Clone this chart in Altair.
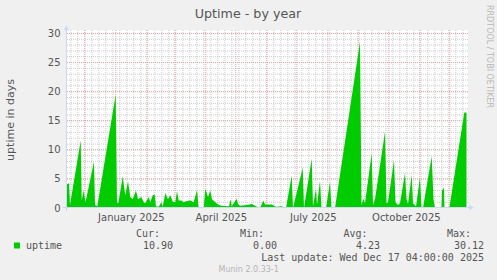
import altair as alt
import pandas as pd

# ---- layout (page pixels) ----
L, T = 66, 30          # plot origin on the page
W, H = 402, 178        # plot (canvas) size

START = pd.Timestamp("2024-11-12 04:00:00")

# ---- data: uptime vertices (days since graph start, uptime in days) ----
day_offset = [0.5, 3.0, 4.0, 14.7, 15.7, 17.5, 19.5, 28.0, 29.0, 31.3,
              49.7, 51.0, 52.5, 56.7, 59.3, 62.0, 64.3, 66.7, 70.0, 72.0,
              75.3, 77.7, 79.3, 82.7, 84.3, 86.7, 88.7, 90.0, 92.7, 95.3,
              96.7, 99.3, 102.0, 104.3, 106.7, 109.3, 111.0, 112.7, 115.3, 117.7,
              121.0, 124.3, 127.7, 131.0, 132.7, 137.7, 139.3, 142.0, 144.3, 146.0,
              149.3, 152.7, 156.0, 163.0, 164.7, 165.7, 170.7, 172.0, 174.0, 180.7,
              185.7, 190.0, 194.0, 197.3, 199.0, 205.7, 210.0, 215.7, 220.0, 225.7,
              227.0, 236.7, 238.0, 245.7, 247.0, 250.0, 251.0, 254.0, 255.5, 260.0,
              264.0, 265.5, 269.0, 294.0, 295.5, 297.3, 299.0, 305.7, 307.0, 309.0,
              319.0, 320.5, 322.0, 328.0, 329.5, 332.0, 334.0, 339.0, 340.5, 342.0,
              345.7, 347.0, 350.0, 354.0, 355.5, 357.0, 365.7, 367.5, 369.0, 375.5,
              376.0, 378.0, 378.5, 383.3, 398.3, 400.5]
uptime_days = [4.0, 4.3, 0.5, 11.6, 1.3, 3.0, 1.0, 8.0, 0.5, 0.3,
               19.5, 0.8, 1.0, 5.4, 2.2, 4.6, 1.9, 1.5, 3.0, 1.5,
               1.9, 1.0, 0.8, 1.9, 1.0, 2.2, 2.3, 0.3, 0.2, 1.0,
               0.2, 2.6, 1.5, 2.2, 1.1, 1.0, 2.9, 1.3, 1.3, 1.0,
               1.2, 1.3, 1.0, 3.1, 0.0, 0.0, 3.3, 1.9, 3.0, 1.5,
               1.0, 0.5, 0.4, 0.3, 1.5, 0.3, 1.6, 0.7, 0.4, 0.5,
               0.7, 0.3, 0.0, 1.3, 0.6, 0.6, 0.2, 0.3, 0.0, 5.6,
               0.0, 6.9, 0.0, 8.5, 0.3, 3.3, 0.5, 4.7, 0.0, 0.0,
               4.5, 0.0, 0.0, 28.6, 0.5, 1.6, 0.8, 9.4, 0.5, 1.5,
               13.1, 0.8, 1.0, 8.2, 1.0, 0.5, 0.8, 6.0, 1.5, 0.7,
               5.7, 0.8, 0.3, 5.3, 0.0, 0.0, 8.9, 1.5, 0.0, 0.0,
               3.0, 3.5, 0.0, 0.0, 16.4, 16.4]

y_major = [5, 10, 15, 20, 25, 30]
y_minor = [v for v in range(1, 31)]
y_ticks = [0, 5, 10, 15, 20, 25, 30]

legend_head = ["Cur:", "Min:", "Avg:", "Max:"]
legend_vals = ["10.90", "0.00", "4.23", "30.12"]

df = pd.DataFrame({"time": START + pd.to_timedelta(day_offset, unit="D"),
                   "uptime": uptime_days})
months = pd.DataFrame({"time": pd.date_range("2024-12-01", "2025-12-01", freq="MS")})
weeks = pd.DataFrame({"time": pd.date_range("2024-11-17", "2025-12-14", freq="W-SUN")})
ymaj = pd.DataFrame({"uptime": y_major})
ymin = pd.DataFrame({"uptime": y_minor})

xscale = alt.Scale(domain=[alt.DateTime(year=2024, month=11, date=12, hours=4),
                           alt.DateTime(year=2025, month=12, date=19, hours=4)])
yscale = alt.Scale(domain=[0, 30.6], nice=False, zero=False)

FONT = "DejaVu Sans"
MONO = "DejaVu Sans Mono"
TXT = "#555555"
AXC = "#CFD6F8"
GRAY = "#CACACA"
RED = "#E6A3A3"

label_dates = [alt.DateTime(year=2025, month=1, date=16),
               alt.DateTime(year=2025, month=4, date=16),
               alt.DateTime(year=2025, month=7, date=17),
               alt.DateTime(year=2025, month=10, date=18)]

XAXIS = alt.Axis(values=label_dates, format="%B %Y", title=None, grid=False,
                 ticks=False, domain=False, labelFont=FONT, labelFontSize=10,
                 labelColor=TXT, labelPadding=4, labelOverlap=False, labelFlush=False)
YAXIS = alt.Axis(values=y_ticks, title=None, grid=False, ticks=False,
                 domain=False, labelFont=FONT, labelFontSize=10,
                 labelColor=TXT, labelPadding=6)

xenc = alt.X("time:T", scale=xscale, axis=XAXIS)
yenc = alt.Y("uptime:Q", scale=yscale, axis=YAXIS)

g_week = alt.Chart(weeks).mark_rule(color=GRAY, strokeDash=[1, 1], strokeWidth=1).encode(x=xenc)
g_ymin = alt.Chart(ymin).mark_rule(color=GRAY, strokeDash=[1, 1], strokeWidth=1).encode(y=yenc)
g_month = alt.Chart(months).mark_rule(color=RED, strokeDash=[1, 1], strokeWidth=1).encode(x=xenc)
g_ymaj = alt.Chart(ymaj).mark_rule(color=RED, strokeDash=[1, 1], strokeWidth=1).encode(y=yenc)

area = alt.Chart(df).mark_area(color="#00CC00", opacity=1, interpolate="linear").encode(
    x=xenc, y=yenc)

one = pd.DataFrame({"k": [0]})


def txt(text, x, y, size, font=FONT, color=TXT, align="left", baseline="alphabetic", angle=0):
    return alt.Chart(one).mark_text(text=text, font=font, fontSize=size, color=color,
                                    align=align, baseline=baseline, angle=angle).encode(
        x=alt.value(x - L), y=alt.value(y - T))


yaxis_line = alt.Chart(one).mark_rule(color=AXC, strokeWidth=1).encode(
    x=alt.value(0.5), y=alt.value(-1), y2=alt.value(H + 3))
xaxis_line = alt.Chart(one).mark_rule(color=AXC, strokeWidth=1).encode(
    x=alt.value(-3), x2=alt.value(W + 2), y=alt.value(H - 0.5))
yarrow = alt.Chart(one).mark_point(shape="triangle-up", filled=True, color=AXC, opacity=1,
                                   size=28).encode(x=alt.value(0.5), y=alt.value(-2))
xarrow = alt.Chart(one).mark_point(shape="triangle-right", filled=True, color=AXC, opacity=1,
                                   size=28).encode(x=alt.value(W + 3.5), y=alt.value(H - 0.5))

square = alt.Chart(one).mark_square(color="#00CC00", opacity=1, size=36).encode(
    x=alt.value(17 - L), y=alt.value(245.5 - T))

texts = [
    txt("Uptime - by year", 248, 18, 12.7, align="center"),
    txt("uptime in days", 10.5, 120, 11, align="center", baseline="middle", angle=270),
    txt("RRDTOOL / TOBI OETIKER", 488.5, 56.5, 8, color="#B8B8B8", align="center",
        baseline="middle", angle=90),
    txt(legend_head[0], 136, 236.6, 10, font=MONO),
    txt(legend_head[1], 240, 236.6, 10, font=MONO),
    txt(legend_head[2], 343.5, 236.6, 10, font=MONO),
    txt(legend_head[3], 447, 236.6, 10, font=MONO),
    txt("uptime", 26, 249, 10, font=MONO),
    txt(legend_vals[0], 173, 249, 10, font=MONO, align="right"),
    txt(legend_vals[1], 277, 249, 10, font=MONO, align="right"),
    txt(legend_vals[2], 380, 249, 10, font=MONO, align="right"),
    txt(legend_vals[3], 484, 249, 10, font=MONO, align="right"),
    txt("Last update: Wed Dec 17 04:00:00 2025", 484, 261, 10, font=MONO, align="right"),
    txt("Munin 2.0.33-1", 248.7, 272, 8, color="#B4B4B4", align="center"),
]

chart = alt.layer(g_week, g_ymin, g_month, g_ymaj, area, yaxis_line, xaxis_line, yarrow,
                  xarrow, square, *texts).properties(
    width=W, height=H,
    autosize=alt.AutoSizeParams(type="none"),
    padding={"left": L, "top": T, "right": 497 - L - W, "bottom": 280 - T - H},
    background="#F0F0F0",
).configure_view(fill="white", stroke=None)

chart.save("out.html", embed_options={"renderer": "svg", "actions": False})
